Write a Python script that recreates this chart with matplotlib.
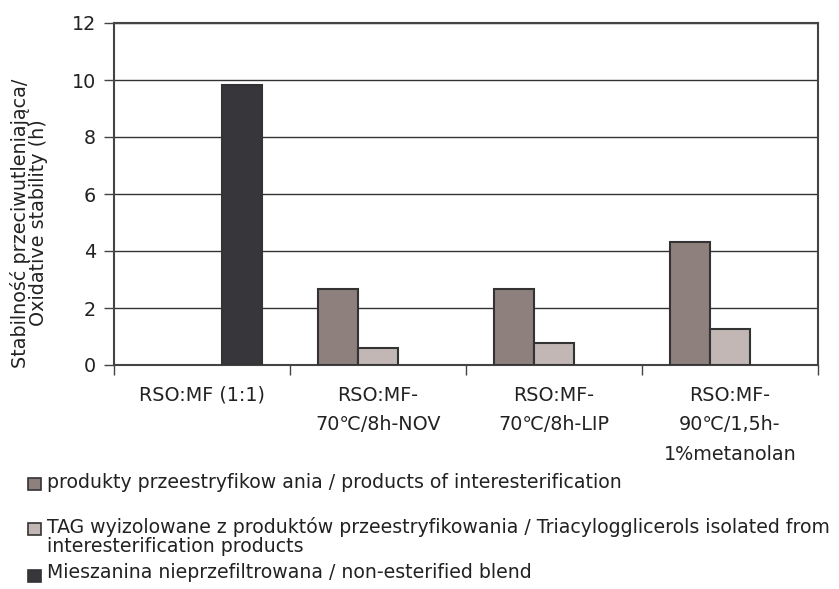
import numpy as np
import matplotlib
matplotlib.use("Agg")
import matplotlib.pyplot as plt
from matplotlib.patches import Rectangle

plt.rcParams['font.family'] = ['DejaVu Sans']

# Data
categories = ["RSO:MF (1:1)", "RSO:MF-\n70℃/8h-NOV", "RSO:MF-\n70℃/8h-LIP",
              "RSO:MF-\n90℃/1,5h-\n1%metanolan"]
products = [np.nan, 2.66, 2.66, 4.33]
tag_isolated = [np.nan, 0.61, 0.76, 1.25]
blend = [9.82, np.nan, np.nan, np.nan]

series_labels = [
    ["produkty przeestryfikow ania / products of interesterification"],
    ["TAG wyizolowane z produktów przeestryfikowania / Triacylogglicerols isolated from",
     "interesterification products"],
    ["Mieszanina nieprzefiltrowana / non-esterified blend"],
]
series_colors = ["#8e817d", "#c2b7b4", "#37363b"]
edge = "#333333"
txt = "#222222"
fs = 13.8
fs_leg = 13.55

W, H = 839, 589
fig = plt.figure(figsize=(W / 100, H / 100), dpi=100)
ax = fig.add_axes([114 / W, 1 - 365 / H, 704 / W, 342 / H])

x = np.arange(len(categories))
bw = 0.227
for i, (vals, col) in enumerate(zip([products, tag_isolated, blend], series_colors)):
    ax.bar(x + (i - 1) * bw, vals, width=bw, color=col, edgecolor=edge,
           linewidth=1.5, zorder=3)

ax.set_xlim(-0.5, len(categories) - 0.5)
ax.set_ylim(0, 12)
ax.set_yticks(np.arange(0, 13, 2))
ax.yaxis.grid(True, color="#333333", linewidth=1.0, zorder=0)
ax.set_axisbelow(True)

ax.set_xticks(x)
ax.set_xticklabels(categories, fontsize=fs, color=txt, linespacing=1.7,
                   va="top")
ax.set_xticks(np.arange(-0.5, len(categories)), minor=True)
ax.tick_params(axis="x", which="major", length=0, pad=15)
ax.tick_params(axis="x", which="minor", length=7, width=1.0, color="#444444",
               direction="out")
ax.tick_params(axis="y", length=7, width=1.0, color="#444444", direction="out",
               labelsize=fs, labelcolor=txt, pad=6)

for s in ax.spines.values():
    s.set_color("#444444")
    s.set_linewidth(1.5)

fig.text(29 / W, 1 - 223 / H,
         "Stabilność przeciwutleniająca/\nOxidative stability (h)",
         rotation=90, ha="center", va="center", multialignment="center",
         fontsize=fs, color=txt, linespacing=0.95)

# Legend entries: baselines of each text line, handle top
legend_rows = [([488], 478), ([533, 552], 523), ([578], 570)]
for lines, col, (bases, htop) in zip(series_labels, series_colors, legend_rows):
    fig.patches.append(Rectangle((28 / W, 1 - (htop + 12) / H), 13 / W, 12 / H,
                                 transform=fig.transFigure, facecolor=col,
                                 edgecolor=edge, linewidth=1.2))
    for line, base in zip(lines, bases):
        fig.text(47 / W, 1 - base / H, line, ha="left", va="baseline",
                 fontsize=fs_leg, color=txt)

fig.savefig("out.png", dpi=100)
